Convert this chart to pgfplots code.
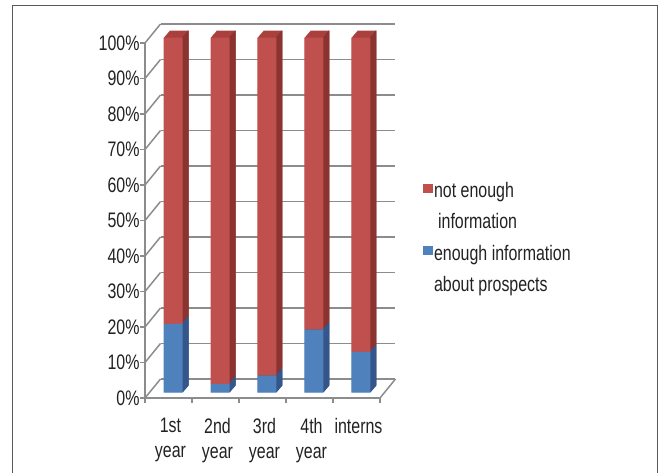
\documentclass[border=0pt]{standalone}
\usepackage{pgfplots}
\usepackage{pgfplotstable}
\pgfplotsset{compat=1.18}
\usepackage{fontspec}
\setmainfont{Liberation Sans}[FakeStretch=0.76]
\definecolor{rf}{HTML}{C0504D}
\definecolor{rt}{HTML}{A9403E}
\definecolor{rs}{HTML}{8A3331}
\definecolor{bf}{HTML}{4F81BD}
\definecolor{bs}{HTML}{34568A}
\definecolor{gridc}{HTML}{8C8C8C}
\definecolor{txt}{HTML}{222222}
\pgfplotstableread{
x blue red
1 19.4 80.6
2 2.5 97.5
3 4.8 95.2
4 17.8 82.2
5 11.5 88.5
}\datatable
\pgfplotsset{
  frame3d/.style={scale only axis, width=235pt, height=355pt,
    xmin=0.5, xmax=5.5, ymin=0, ymax=100, anchor=south west, enlargelimits=false},
  bars3d/.style={frame3d, hide axis, ybar stacked, bar width=19pt, clip=false},
}
\begin{document}
\begin{tikzpicture}[x=1pt,y=1pt]
% back wall
\begin{axis}[frame3d, at={(160.5pt,93pt)}, axis line style={draw=none},
  xtick=\empty, ytick={0,10,...,100}, yticklabels={}, major tick length=0pt,
  ymajorgrids, grid style={gridc, line width=1.5pt}]
\end{axis}
% floor / wall connectors
\foreach \i in {0,...,10} \draw[gridc, line width=1.5pt] (145pt,74pt+35.5pt*\i) -- ++(15.5pt,19pt);
\draw[gridc, line width=1.5pt] (380pt,74pt) -- ++(15.5pt,19pt);
% front axis
\begin{axis}[frame3d, at={(145pt,74pt)},
  axis x line*=bottom, axis y line*=left,
  axis line style={gridc, line width=1.5pt},
  tick style={gridc, line width=1.5pt}, tick align=outside, major tick length=5pt,
  ytick={0,10,...,100}, yticklabel={\pgfmathprintnumber{\tick}\%},
  xtick={0.5,1.5,...,5.5}, xticklabels={},
  extra x ticks={1,2,3,4,5},
  extra x tick labels={1st\\year,2nd\\year,3rd\\year,4th\\year,interns},
  extra x tick style={major tick length=0pt},
  xticklabel style={align=center, font=\fontsize{21}{25}\selectfont, text=txt, yshift=-17pt, xshift=2pt},
  yticklabel style={font=\fontsize{21}{25}\selectfont, text=txt, xshift=3pt},
  /pgf/number format/assume math mode=true]
\end{axis}
% extrusion: top faces
\foreach \s in {0.5,1,...,6}{
\begin{axis}[bars3d, at={(149.5pt+\s*1pt,79.3pt+\s*1.1667pt)}]
\addplot[fill=bs, draw=none] table[x=x,y=blue]{\datatable};
\addplot[fill=rt, draw=none] table[x=x,y=red]{\datatable};
\end{axis}}
% extrusion: side faces
\foreach \s in {0.5,1,...,6}{
\begin{axis}[bars3d, bar width=1pt, bar shift=9pt, at={(149.5pt+\s*1pt,79.3pt+\s*1.1667pt)}]
\addplot[fill=bs, draw=none] table[x=x,y=blue]{\datatable};
\addplot[fill=rs, draw=none] table[x=x,y=red]{\datatable};
\end{axis}}
% front faces + legend
\begin{axis}[bars3d, at={(149.5pt,79.3pt)},
  legend style={draw=none, fill=none, at={(1.1638,0.5956)}, anchor=north west,
    font=\fontsize{21}{25}\selectfont, text=txt, row sep=10.3pt, inner sep=0pt,
    nodes={inner xsep=1.5pt, inner ysep=0pt, text height=16pt, text depth=5pt}},
  legend cell align=left]
\addplot[fill=bf, draw=none, forget plot] table[x=x,y=blue]{\datatable};
\addplot[fill=rf, draw=none, forget plot] table[x=x,y=red]{\datatable};
\addlegendimage{legend image code/.code={\fill[rf] (0pt,0pt) rectangle (9pt,8pt);}}
\addlegendentry{not enough}
\addlegendimage{empty legend}
\addlegendentry{\hspace{4pt}information}
\addlegendimage{legend image code/.code={\fill[bf] (0pt,0pt) rectangle (9pt,8pt);}}
\addlegendentry{enough information}
\addlegendimage{empty legend}
\addlegendentry{about prospects}
\end{axis}
% outer frame
\draw[black!65, line width=1pt] (12.5pt,-5pt) -- (12.5pt,466.5pt) -- (657.5pt,466.5pt) -- (657.5pt,-5pt);
\pgfresetboundingbox
\path[use as bounding box] (0,0) rectangle (659pt,472pt);
\end{tikzpicture}
\end{document}
